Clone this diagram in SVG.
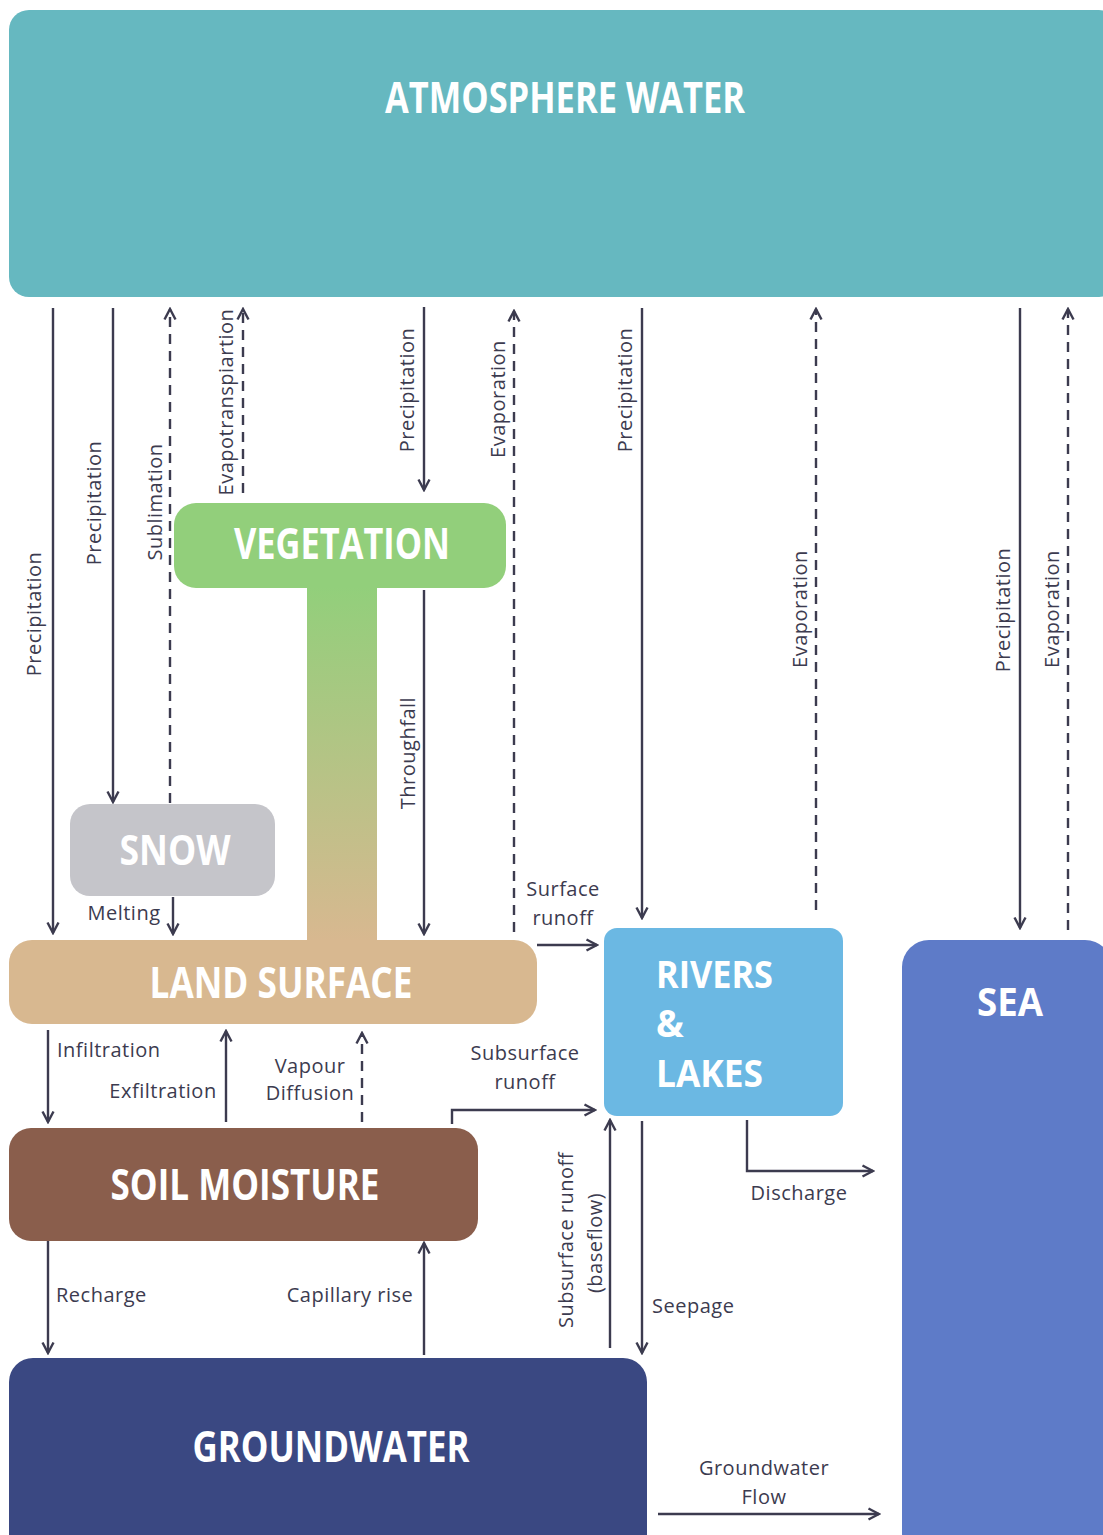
<svg xmlns="http://www.w3.org/2000/svg" width="1103" height="1535" viewBox="0 0 1103 1535">
<style>
.t{font-family:"Open Sans","Liberation Sans",sans-serif;font-weight:700;fill:#ffffff;}
.l{font-family:"Open Sans","Liberation Sans",sans-serif;font-size:20px;fill:#3c3b4f;letter-spacing:0.5px;}
.c{stroke:#3c3b4f;stroke-width:2.4;fill:none;}
.d{stroke:#3c3b4f;stroke-width:2.4;fill:none;stroke-dasharray:10 7;}
</style>
<defs>
<marker id="ah" viewBox="0 0 14 14" refX="12" refY="7" markerWidth="14" markerHeight="14" markerUnits="userSpaceOnUse" orient="auto">
<path d="M1.5,1.5 L12,7 L1.5,12.5" fill="none" stroke="#3c3b4f" stroke-width="2.4" stroke-linejoin="miter"/>
</marker>
<linearGradient id="g" x1="0" y1="0" x2="0" y2="1">
<stop offset="0" stop-color="#92cf7b"/>
<stop offset="1" stop-color="#d8b890"/>
</linearGradient>
</defs>
<rect width="1103" height="1535" fill="#ffffff"/>

<g id="atmosphere">
<rect x="9" y="10" width="1110" height="287" rx="20" fill="#66b8c0"/>
<text class="t" x="565" y="113" font-size="43" text-anchor="middle" textLength="360" lengthAdjust="spacingAndGlyphs">ATMOSPHERE WATER</text>
</g>
<g id="vegetation">
<rect x="174" y="503" width="332" height="85" rx="22" fill="#92cf7b"/>
<text class="t" x="342" y="559" font-size="43" text-anchor="middle" textLength="216" lengthAdjust="spacingAndGlyphs">VEGETATION</text>
</g>
<g id="canopy">
<rect x="307" y="587" width="70" height="354" fill="url(#g)"/>
</g>
<g id="snow">
<rect x="70" y="804" width="205" height="92" rx="20" fill="#c5c5ca"/>
<text class="t" x="175" y="865" font-size="41" text-anchor="middle" textLength="111" lengthAdjust="spacingAndGlyphs">SNOW</text>
</g>
<g id="land">
<rect x="9" y="940" width="528" height="84" rx="23" fill="#d8b890"/>
<text class="t" x="281" y="998" font-size="43" text-anchor="middle" textLength="263" lengthAdjust="spacingAndGlyphs">LAND SURFACE</text>
</g>
<g id="rivers">
<rect x="604" y="928" width="239" height="188" rx="13" fill="#6bb8e3"/>
<text class="t" x="656" y="988" font-size="37" textLength="117" lengthAdjust="spacingAndGlyphs">RIVERS</text>
<text class="t" x="656" y="1037" font-size="37">&amp;</text>
<text class="t" x="656" y="1087" font-size="37" textLength="107" lengthAdjust="spacingAndGlyphs">LAKES</text>
</g>
<g id="soil">
<rect x="9" y="1128" width="469" height="113" rx="22" fill="#8a5e4c"/>
<text class="t" x="245" y="1200" font-size="43" text-anchor="middle" textLength="269" lengthAdjust="spacingAndGlyphs">SOIL MOISTURE</text>
</g>
<g id="groundwater">
<rect x="9" y="1358" width="638" height="200" rx="24" fill="#3a4882"/>
<text class="t" x="331" y="1462" font-size="43" text-anchor="middle" textLength="277" lengthAdjust="spacingAndGlyphs">GROUNDWATER</text>
</g>
<g id="sea">
<rect x="902" y="940" width="210" height="620" rx="27" fill="#5e7bc8"/>
<text class="t" x="1010" y="1016" font-size="39" text-anchor="middle" textLength="66" lengthAdjust="spacingAndGlyphs">SEA</text>
</g>

<g id="connectors">
<line class="c" x1="53" y1="308" x2="53" y2="933" marker-end="url(#ah)"/>
<line class="c" x1="113" y1="308" x2="113" y2="802" marker-end="url(#ah)"/>
<line class="d" x1="170" y1="803" x2="170" y2="309" marker-end="url(#ah)"/>
<line class="d" x1="243" y1="493" x2="243" y2="309" marker-end="url(#ah)"/>
<line class="c" x1="424" y1="307" x2="424" y2="490" marker-end="url(#ah)"/>
<line class="d" x1="514" y1="932" x2="514" y2="311" marker-end="url(#ah)"/>
<line class="c" x1="642" y1="308" x2="642" y2="918" marker-end="url(#ah)"/>
<line class="d" x1="816" y1="910" x2="816" y2="309" marker-end="url(#ah)"/>
<line class="c" x1="1020" y1="308" x2="1020" y2="928" marker-end="url(#ah)"/>
<line class="d" x1="1068" y1="930" x2="1068" y2="309" marker-end="url(#ah)"/>
<line class="c" x1="424" y1="590" x2="424" y2="934" marker-end="url(#ah)"/>
<line class="c" x1="173" y1="897" x2="173" y2="934" marker-end="url(#ah)"/>
<line class="c" x1="537" y1="945" x2="597" y2="945" marker-end="url(#ah)"/>
<line class="c" x1="48" y1="1030" x2="48" y2="1122" marker-end="url(#ah)"/>
<line class="c" x1="226" y1="1122" x2="226" y2="1031" marker-end="url(#ah)"/>
<line class="d" x1="362" y1="1122" x2="362" y2="1033" marker-end="url(#ah)"/>
<path class="c" d="M452,1124 L452,1110 L595,1110" marker-end="url(#ah)"/>
<line class="c" x1="610" y1="1348" x2="610" y2="1120" marker-end="url(#ah)"/>
<line class="c" x1="642" y1="1121" x2="642" y2="1353" marker-end="url(#ah)"/>
<path class="c" d="M747,1120 L747,1171 L873,1171" marker-end="url(#ah)"/>
<line class="c" x1="48" y1="1241" x2="48" y2="1353" marker-end="url(#ah)"/>
<line class="c" x1="424" y1="1355" x2="424" y2="1243" marker-end="url(#ah)"/>
<line class="c" x1="658" y1="1514" x2="879" y2="1514" marker-end="url(#ah)"/>
</g>

<g id="labels">
<text class="l" transform="translate(41,614) rotate(-90)" text-anchor="middle">Precipitation</text>
<text class="l" transform="translate(101,503) rotate(-90)" text-anchor="middle">Precipitation</text>
<text class="l" transform="translate(162,502) rotate(-90)" text-anchor="middle">Sublimation</text>
<text class="l" transform="translate(233,402) rotate(-90)" text-anchor="middle">Evapotranspiartion</text>
<text class="l" transform="translate(414,390) rotate(-90)" text-anchor="middle">Precipitation</text>
<text class="l" transform="translate(505,399) rotate(-90)" text-anchor="middle">Evaporation</text>
<text class="l" transform="translate(632,390) rotate(-90)" text-anchor="middle">Precipitation</text>
<text class="l" transform="translate(807,609) rotate(-90)" text-anchor="middle">Evaporation</text>
<text class="l" transform="translate(1010,610) rotate(-90)" text-anchor="middle">Precipitation</text>
<text class="l" transform="translate(1059,609) rotate(-90)" text-anchor="middle">Evaporation</text>
<text class="l" transform="translate(415,753) rotate(-90)" text-anchor="middle">Throughfall</text>
<text class="l" transform="translate(573,1240) rotate(-90)" text-anchor="middle">Subsurface runoff</text>
<text class="l" transform="translate(602,1243) rotate(-90)" text-anchor="middle">(baseflow)</text>
<text class="l" x="124" y="920" text-anchor="middle">Melting</text>
<text class="l" x="563" y="896" text-anchor="middle">Surface</text>
<text class="l" x="563" y="925" text-anchor="middle">runoff</text>
<text class="l" x="57" y="1057">Infiltration</text>
<text class="l" x="163" y="1098" text-anchor="middle">Exfiltration</text>
<text class="l" x="310" y="1073" text-anchor="middle">Vapour</text>
<text class="l" x="310" y="1100" text-anchor="middle">Diffusion</text>
<text class="l" x="525" y="1060" text-anchor="middle">Subsurface</text>
<text class="l" x="525" y="1089" text-anchor="middle">runoff</text>
<text class="l" x="799" y="1200" text-anchor="middle">Discharge</text>
<text class="l" x="652" y="1313">Seepage</text>
<text class="l" x="56" y="1302">Recharge</text>
<text class="l" x="350" y="1302" text-anchor="middle">Capillary rise</text>
<text class="l" x="764" y="1475" text-anchor="middle">Groundwater</text>
<text class="l" x="764" y="1504" text-anchor="middle">Flow</text>
</g>
</svg>
